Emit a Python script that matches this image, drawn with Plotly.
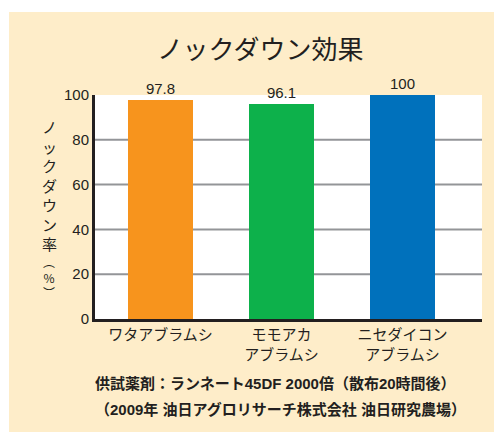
import plotly.graph_objects as go

categories = ["ワタアブラムシ", "モモアカ<br>アブラムシ", "ニセダイコン<br>アブラムシ"]
values = [97.8, 96.1, 100]
bar_colors = ["#F7941D", "#0DB14B", "#0071BC"]
y_ticks = [0, 20, 40, 60, 80, 100]
grid_values = [20, 40, 60, 80]

title_text = "ノックダウン効果"
ytitle_main = "ノ<br>ッ<br>ク<br>ダ<br>ウ<br>ン<br>率"
ytitle_unit = "︵<br>%<br>︶"
note_lines = ["供試薬剤：ランネート45DF 2000倍（散布20時間後）",
              "（2009年 油日アグロリサーチ株式会社 油日研究農場）"]

OFF = 8  # page body margin
W, H = 502 - OFF, 432 - OFF
L, R, T, B = 95 - OFF, 20, 95 - OFF, 113
pw, ph = W - L - R, H - T - B

def px_x(px):
    return (px - OFF - L) / pw

def px_y(py):
    return (H - B - (py - OFF)) / ph

BEIGE = "#FEEDC9"
DARK = "#231F20"
JP = "Noto Sans CJK JP"
NUM = "Liberation Sans, Noto Sans CJK JP"

xpos = list(range(len(categories)))

fig = go.Figure()
fig.add_trace(go.Bar(
    x=xpos, y=values, marker=dict(color=bar_colors, line=dict(width=0)),
    width=0.537,
    text=[f"{v:g}" for v in values], textposition="outside",
    textfont=dict(family=NUM, size=15, color=DARK),
    cliponaxis=False,
))

shapes = []
shapes.append(dict(type="rect", xref="paper", yref="paper",
                   x0=px_x(0), x1=px_x(9), y0=px_y(440), y1=px_y(0),
                   fillcolor="white", line=dict(width=0), layer="below"))
shapes.append(dict(type="rect", xref="paper", yref="paper",
                   x0=px_x(0), x1=px_x(510), y0=px_y(12), y1=px_y(0),
                   fillcolor="white", line=dict(width=0), layer="below"))
for g in grid_values:
    shapes.append(dict(type="line", xref="paper", yref="y", x0=0, x1=1, y0=g, y1=g,
                       line=dict(color="#939598", width=2), layer="below"))

annotations = [
    dict(text=title_text, xref="paper", yref="paper", x=px_x(260), y=px_y(47),
         showarrow=False, font=dict(family=JP, size=26, color=DARK),
         xanchor="center", yanchor="middle"),
    dict(text=ytitle_main, xref="paper", yref="paper", x=px_x(49), y=px_y(114),
         showarrow=False, font=dict(family=JP, size=15, color=DARK),
         xanchor="center", yanchor="top", align="center"),
    dict(text=ytitle_unit, xref="paper", yref="paper", x=px_x(49), y=px_y(251),
         showarrow=False, font=dict(family=JP, size=12, color=DARK),
         xanchor="center", yanchor="top", align="center"),
    dict(text="<b>" + note_lines[0] + "</b>", xref="paper", yref="paper",
         x=px_x(93), y=px_y(383), showarrow=False,
         font=dict(family=NUM, size=15, color=DARK), xanchor="left", yanchor="middle"),
    dict(text="<b>" + note_lines[1] + "</b>", xref="paper", yref="paper",
         x=px_x(93), y=px_y(409), showarrow=False,
         font=dict(family=NUM, size=15, color=DARK), xanchor="left", yanchor="middle"),
]

fig.update_layout(
    width=W, height=H,
    margin=dict(l=L, r=R, t=T, b=B, pad=0),
    paper_bgcolor=BEIGE, plot_bgcolor="white",
    showlegend=False, bargap=0,
    shapes=shapes, annotations=annotations,
    xaxis=dict(range=[-0.541, 2.657], tickvals=xpos, ticktext=categories,
               showgrid=False, zeroline=False, showline=True, linecolor=DARK,
               linewidth=3, ticks="", tickfont=dict(family=JP, size=15, color=DARK),
               fixedrange=True),
    yaxis=dict(range=[0, 100], tickvals=y_ticks, showgrid=False, zeroline=False,
               showline=True, linecolor=DARK, linewidth=3, ticks="",
               tickfont=dict(family=NUM, size=15, color=DARK), fixedrange=True),
)

fig.write_html("out.html", config=dict(displayModeBar=False))
